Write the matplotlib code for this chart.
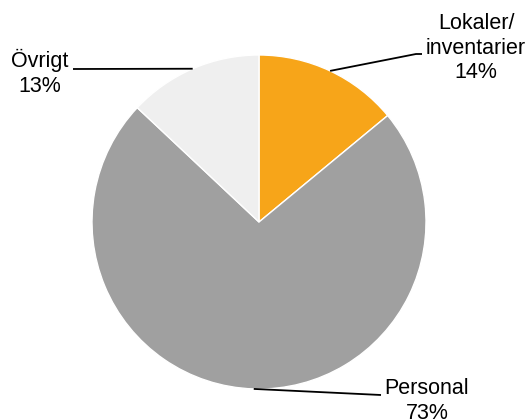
import matplotlib
matplotlib.use('Agg')
import matplotlib.pyplot as plt
import numpy as np

plt.rcParams['font.family'] = ['Liberation Sans', 'DejaVu Sans']

labels = ['Lokaler/\ninventarier', 'Personal', 'Övrigt']
shares = [14, 73, 13]
colors = ['#F7A519', '#A0A0A0', '#EFEFEF']

W, H = 528, 419
fig = plt.figure(figsize=(W / 100, H / 100), dpi=100)
ax = fig.add_axes([0, 0, 1, 1])

cx, cy, r = 259, H - 222, 167
wedges, _ = ax.pie(shares, colors=colors, startangle=90, counterclock=False,
                   radius=r, center=(cx, cy), frame=True,
                   wedgeprops=dict(edgecolor='white', linewidth=1))
ax.set_xlim(0, W)
ax.set_ylim(0, H)
ax.set_aspect('equal')
ax.axis('off')

# label layout (pixel coords from the top-left corner)
text_pos = [(476, 48), (427, 401), (40, 73)]
line_end = [[(416, 54), (422, 54)], [(381, 395)], [(73, 69)]]

for w, lab, val, (tx, ty), ends in zip(wedges, labels, shares, text_pos, line_end):
    mid = np.deg2rad((w.theta1 + w.theta2) / 2)
    ax0, ay0 = cx + r * np.cos(mid), cy + r * np.sin(mid)
    xs = [ax0] + [p[0] for p in ends]
    ys = [ay0] + [H - p[1] for p in ends]
    ax.plot(xs, ys, color='black', linewidth=1.3, solid_capstyle='butt')
    ax.text(tx, H - ty, f'{lab}\n{val}%', ha='center', va='center',
            fontsize=15.5, color='black', linespacing=1.2)

fig.savefig('out.png', dpi=100)
